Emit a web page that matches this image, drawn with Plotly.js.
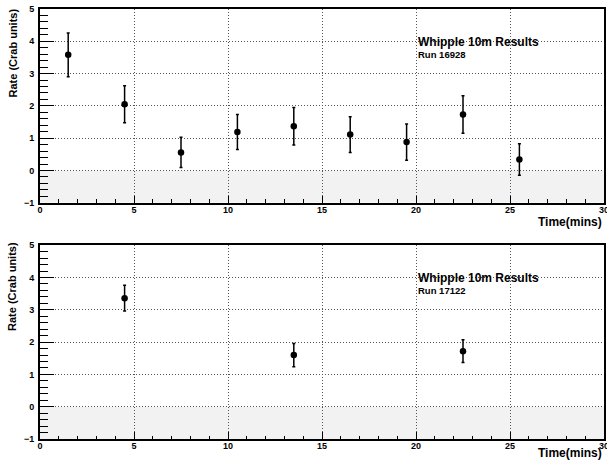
<!DOCTYPE html>
<html>
<head>
<meta charset="utf-8">
<script src="https://cdn.plot.ly/plotly-3.0.1.min.js"></script>
<style>html,body{margin:0;padding:0;background:#fff;}#chart{width:607px;height:463px;}</style>
</head>
<body>
<div id="chart"></div>
<script>
// Run 16928
var timeA = [1.5, 4.5, 7.5, 10.5, 13.5, 16.5, 19.5, 22.5, 25.5];
var rateA = [3.58, 2.05, 0.56, 1.19, 1.37, 1.11, 0.88, 1.73, 0.34];
var errA  = [0.68, 0.57, 0.47, 0.54, 0.58, 0.55, 0.56, 0.58, 0.49];
// Run 17122
var timeB = [4.5, 13.5, 22.5];
var rateB = [3.36, 1.60, 1.72];
var errB  = [0.40, 0.36, 0.35];

var xTickVals = [0, 5, 10, 15, 20, 25, 30];
var yTickVals = [-1, 0, 1, 2, 3, 4, 5];
var titleMain = "Whipple 10m Results";
var runA = "Run 16928";
var runB = "Run 17122";
var xTitle = "Time(mins)";
var yTitle = "Rate (Crab units)";

var FONT = "Liberation Sans, Arial, Helvetica, sans-serif";
var W = 607, H = 463, ML = 40, MR = 3, MT = 9, MB = 24;
var PW = W - ML - MR, PH = H - MT - MB;
function px2paperX(px) { return (px - ML) / PW; }
function px2paperY(py) { return (H - MB - py) / PH; }

function trace(x, y, e, xa, ya) {
  return {
    x: x, y: y, xaxis: xa, yaxis: ya, type: "scatter", mode: "markers",
    marker: {color: "#000", size: 6.5},
    error_y: {type: "data", array: e, visible: true, color: "#000", thickness: 1.5, width: 1.5},
    hoverinfo: "skip", showlegend: false
  };
}

function xax(anchor) {
  return {
    anchor: anchor, range: [0, 30], tickvals: xTickVals,
    showline: true, linecolor: "#000", linewidth: 2, mirror: true,
    ticks: "inside", ticklen: 7, tickwidth: 1, tickcolor: "#000",
    minor: {dtick: 1, ticklen: 3.5, tickcolor: "#000", ticks: "inside", showgrid: false},
    showgrid: true, gridcolor: "#555", griddash: "1px,2px", gridwidth: 1,
    zeroline: false, ticklabeloverflow: "allow", ticklabelstandoff: -3,
    tickfont: {family: FONT, size: 9, color: "#000", weight: "bold"}
  };
}
function yax(anchor, domain) {
  return {
    anchor: anchor, domain: domain, range: [-1, 5], tickvals: yTickVals,
    showline: true, linecolor: "#000", linewidth: 2, mirror: true,
    ticks: "inside", ticklen: 14, tickwidth: 1, tickcolor: "#000",
    minor: {dtick: 0.2, ticklen: 7.5, tickcolor: "#000", ticks: "inside", showgrid: false},
    showgrid: true, gridcolor: "#555", griddash: "1px,2px", gridwidth: 1,
    zeroline: false, ticklabelstandoff: 2,
    tickfont: {family: FONT, size: 9, color: "#000", weight: "bold"}
  };
}

var data = [
  trace(timeA, rateA, errA, "x", "y"),
  trace(timeB, rateB, errB, "x2", "y2")
];

function ann(text, x, y, xref, yref, size, opts) {
  var a = {text: text, x: x, y: y, xref: xref, yref: yref, showarrow: false,
    font: {family: FONT, size: size, color: "#000", weight: "bold"},
    xanchor: "left", yanchor: "middle"};
  for (var k in opts) a[k] = opts[k];
  return a;
}

var layout = {
  width: W, height: H,
  margin: {l: ML, r: MR, t: MT, b: MB},
  paper_bgcolor: "#fff", plot_bgcolor: "#fff",
  xaxis: xax("y"),
  yaxis: yax("x", [0.5494, 1]),
  xaxis2: xax("y2"),
  yaxis2: yax("x2", [0, 0.4506]),
  shapes: [
    {type: "rect", xref: "x domain", yref: "y", x0: 0, x1: 1, y0: -1, y1: 0,
     fillcolor: "#f2f2f2", line: {width: 0}, layer: "below"},
    {type: "rect", xref: "x2 domain", yref: "y2", x0: 0, x1: 1, y0: -1, y1: 0,
     fillcolor: "#f2f2f2", line: {width: 0}, layer: "below"}
  ],
  annotations: [
    ann(titleMain, 20, 3.97, "x", "y", 12),
    ann(runA, 20, 3.59, "x", "y", 9.5),
    ann(titleMain, 20, 4.0, "x2", "y2", 12),
    ann(runB, 20, 3.6, "x2", "y2", 9.5),
    ann(xTitle, px2paperX(604), px2paperY(222), "paper", "paper", 12, {xanchor: "right"}),
    ann(xTitle, px2paperX(604), px2paperY(452.5), "paper", "paper", 12, {xanchor: "right"}),
    ann(yTitle, px2paperX(12), px2paperY(53.5), "paper", "paper", 11, {xanchor: "center", textangle: -90}),
    ann(yTitle, px2paperX(12), px2paperY(287), "paper", "paper", 11, {xanchor: "center", textangle: -90})
  ]
};

Plotly.newPlot("chart", data, layout, {staticPlot: true, displayModeBar: false});
</script>
</body>
</html>
